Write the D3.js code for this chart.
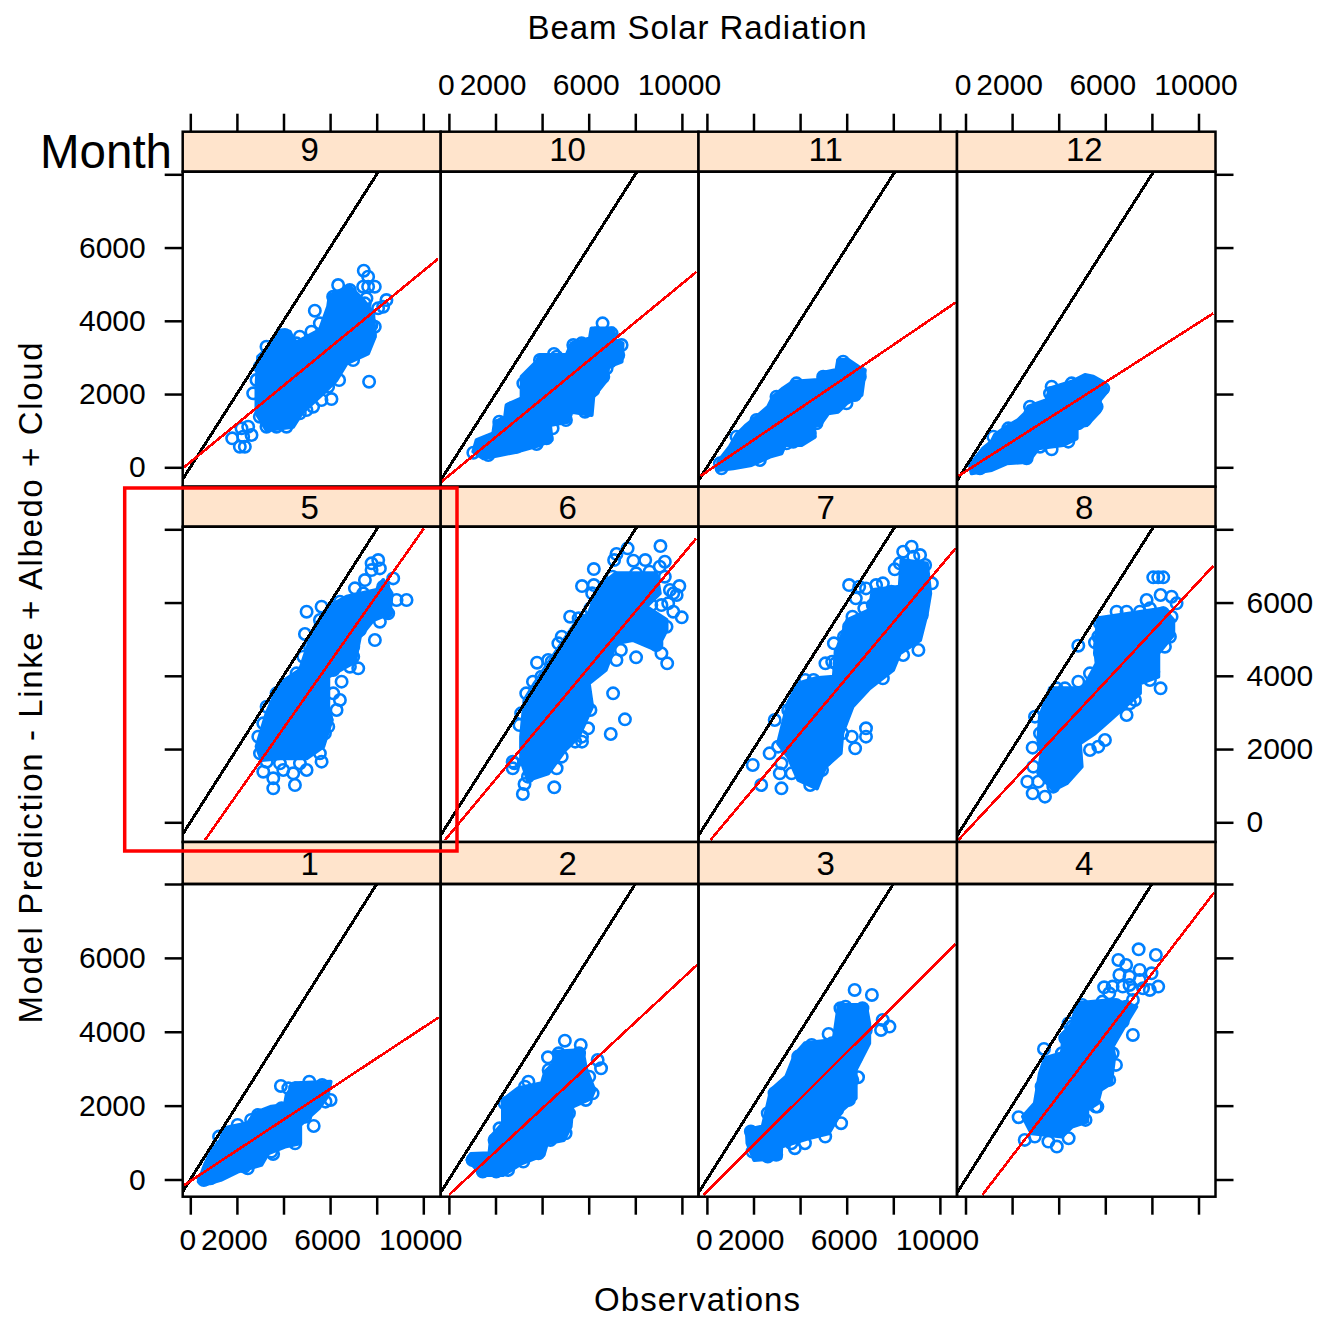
<!DOCTYPE html>
<html>
<head>
<meta charset="utf-8">
<title>Beam Solar Radiation</title>
<script src="https://d3js.org/d3.v7.min.js"></script>
<style>
body { margin: 0; background: #fff; }
text { font-family: "Liberation Sans", sans-serif; fill: #000; }
</style>
</head>
<body>
<div id="chart"></div>
<script>
// all values below are [observation, prediction], read off the picture
// pointsN = rings that can be told apart, coreN = outline of the area where the rings overplot to solid blue
// fitN = two ends of the red line
const months = [[9, 10, 11, 12], [5, 6, 7, 8], [1, 2, 3, 4]];
const xTicks = [0, 2000, 4000, 6000, 8000, 10000];
const xLabels = [0, 2000, 6000, 10000];
const yTicks = [0, 2000, 4000, 6000, 8000];
const yLabels = [0, 2000, 4000, 6000];
const identity = [[-600, -600], [8100, 8100]];

const core9 = [[2913,3020],[3556,3384],[3771,3748],[4271,3702],[4486,3384],[5558,3748],[5916,4385],[5987,4704],[6845,4931],[7417,4567],[7846,4203],[7918,3566],[7632,3111],[6702,2838],[6273,2383],[5701,2019],[4772,1473],[4414,1109],[3270,1018],[2841,1473],[2841,2201]];
const points9 = [[1797,790],[2198,1063],[2484,1109],[2269,836],[2126,563],[2341,563],[2627,882],[2698,2019],[5344,4276],[6345,4976],[7446,5368],[7632,5204],[7417,4931],[7918,4931],[7632,4931],[8418,4567],[8061,4340],[7775,3884],[7703,3612],[7346,3202],[6988,2929],[6387,2383],[6059,1864],[5630,1837],[4986,1564],[5272,1655],[4128,1109],[3270,1109],[7674,2337],[4700,3566],[5201,3702],[4057,3612],[8275,4385],[7560,4612],[3270,3293],[4557,3384],[5558,3930],[6130,4658],[6845,4840],[7489,4476],[7918,3839],[6702,3020],[5916,2201],[4700,1473],[3699,1109],[2984,1382],[2984,2747],[2841,2383]];
const fit9 = [[-270,0],[10630,5690]];

const core10 = [[1191,745],[1906,927],[1978,1246],[2407,1337],[2478,1700],[3122,1882],[3122,2474],[3765,2883],[3908,3066],[5052,3066],[5267,3384],[6053,3520],[6125,3793],[7054,3793],[7126,3475],[7454,3384],[7412,2883],[6840,2747],[6768,2383],[6196,1928],[6125,1427],[5267,1518],[5124,1246],[4337,1155],[4409,745],[3908,609],[2907,426],[2192,336],[1477,245],[1048,426]];
const points10 = [[6596,3930],[7412,3338],[7269,3066],[1048,399],[1692,336],[2693,1610],[2164,1246],[4509,3093],[5023,1291],[5839,1518],[4451,1064],[3765,636],[4194,790],[6196,2337],[6482,2565],[6196,2110],[5696,3384],[5338,3338],[6911,2883],[6768,2702],[3193,2292],[3908,2929],[4623,3020],[5481,3293],[6339,3657],[6983,3657],[2335,1200],[3193,1746],[1477,563],[2907,563],[5338,1655],[5910,1746],[6625,2474]];
const fit10 = [[-310,-390],[10630,5340]];

const core11 = [[485,154],[986,563],[1272,881],[1701,1154],[2059,1337],[2631,1655],[2845,1928],[3274,2156],[3703,2338],[4776,2383],[4847,2565],[5562,2656],[5634,2929],[6063,2929],[6492,2747],[6778,2656],[6635,1974],[5991,1746],[5634,1518],[5205,1473],[4847,1154],[4490,1109],[4633,836],[4061,609],[3346,609],[3203,381],[2702,290],[1916,63],[1129,-29],[485,-74]];
const points11 = [[5848,2884],[6420,2156],[6349,1974],[4418,927],[3703,699],[557,108],[629,-29],[4990,2474],[4704,1200],[3846,2292],[2988,1928],[2130,1291],[1272,836],[3417,654],[2273,199],[5991,1746],[6563,2474]];
const fit11 = [[-272,-238],[10681,4503]];

const core12 = [[193,62],[765,518],[1123,700],[1266,882],[1766,1109],[2267,1291],[2553,1473],[2696,1655],[3482,1837],[3625,2155],[4555,2337],[5127,2519],[5484,2474],[5985,2292],[6056,2065],[5770,1837],[5741,1518],[5198,1154],[4769,1109],[4769,790],[4197,608],[3125,518],[2696,153],[1766,108],[1123,-74],[265,-165]];
const points12 = [[3697,2201],[5913,2155],[5484,1564],[5127,1291],[3697,490],[4412,700],[3196,563],[2767,1655],[3625,2019],[4555,2292],[1838,1063],[1194,836],[622,-29],[5627,1655],[4840,1200],[2624,244]];
const fit12 = [[-307,-238],[10632,4203]];

const core5 = [[2846,2065],[3275,2975],[3847,3794],[4705,4158],[4991,4704],[5349,5341],[5921,5887],[6707,6160],[7994,6342],[8280,6615],[8638,6251],[8566,5705],[7851,5523],[7279,5068],[7065,4386],[5921,3976],[5921,3157],[6064,2793],[5706,2065],[4991,1747],[3847,1747],[3060,1701]];
const points5 = [[3561,927],[4491,1018],[3561,1200],[3132,1382],[3990,1428],[4991,1428],[5635,1656],[4419,1337],[2989,1883],[2918,2338],[3275,3157],[6493,3840],[6421,3339],[6278,3066],[7208,4204],[6850,4249],[7922,4977],[4920,5141],[4991,5750],[5635,5887],[9281,6069],[8852,6069],[8423,5750],[8137,5477],[8709,6660],[7494,6615],[7065,6388],[8066,7161],[7780,7070],[8137,6933],[7780,6888],[7279,5250],[5349,4795],[4848,4522],[6135,3521],[5849,2793],[5778,2429],[3132,2702],[3704,3521],[4562,4067],[5134,4795],[5563,5523],[6421,6023],[7422,6251],[8280,6433],[8494,5705],[6993,4795],[6993,4522],[6135,4158],[5921,2611],[5563,1883],[3847,1610],[3275,1655],[4705,1610]];
const fit5 = [[629,-483],[10025,8025]];

const core6 = [[3100,2338],[3246,3339],[3681,3794],[4551,4613],[5422,5432],[6002,5705],[6438,6433],[7163,6797],[8904,6797],[9050,6251],[8469,5887],[9340,5523],[9340,5250],[8904,4704],[7889,4977],[7163,4886],[6728,4158],[6002,3794],[6148,3157],[5567,2338],[4987,1974],[4261,1337],[3391,1155],[3100,1701]];
const points6 = [[3173,773],[4522,955],[3246,1046],[4624,1474],[2738,1474],[2738,1655],[6946,2411],[7555,2811],[7047,3521],[5973,2566],[5712,2202],[5422,2202],[6075,3066],[3028,2656],[3608,3840],[3782,4358],[4842,5068],[5204,5614],[5712,6451],[6220,6915],[7192,7325],[7671,7480],[7918,7143],[8426,7161],[9079,7543],[9267,7115],[9891,6451],[9630,6251],[9993,5596],[9630,5750],[9369,4340],[9122,4613],[8034,4504],[7192,4431],[7381,4704],[8904,4841],[6438,6160],[6220,6478],[7091,7161],[9050,6979],[9485,6342],[8687,5932],[9122,5932],[6873,6433],[7599,6160],[6075,5841],[3971,3976],[4406,4386],[7018,6706],[8034,6797],[8614,6842],[9267,6706],[9775,6206],[9412,5978],[6148,6251],[5567,5569],[4697,4886],[4261,4431],[3318,3521],[3100,2975],[2810,1610],[3391,1246],[4842,1792],[5712,2338],[8904,4887],[9340,5341]];
const fit6 = [[-164,-483],[10617,7752]];

const core7 = [[3055,2156],[3490,3275],[3926,3794],[4651,3930],[5449,3976],[5522,4613],[6030,5523],[6973,5796],[7118,6342],[8279,6433],[8351,7161],[9439,7070],[9584,6251],[9439,5705],[9149,4977],[8279,4613],[7989,4158],[6973,3658],[6247,3157],[5812,2429],[5739,1883],[5086,1519],[4724,927],[3926,1155],[3490,1792]];
const points7 = [[8786,7525],[8424,7389],[9149,7297],[8061,6906],[8641,6842],[9657,6524],[6102,6478],[6537,6433],[7263,6478],[6392,6115],[7118,5932],[9222,5659],[6102,5341],[5449,4886],[5739,4658],[5086,4340],[5522,4340],[9078,4704],[8424,4568],[7553,3930],[6828,2566],[6828,2338],[6218,2338],[6363,2019],[5812,2429],[2910,2793],[1967,1565],[2692,1883],[2330,1019],[3200,927],[3128,1337],[4433,1019],[4941,1428],[3926,1701],[3635,1337],[6827,6387],[7553,6524],[7916,6296],[6755,5841],[7408,5978],[6247,5614],[5884,5068],[6320,5068],[5377,4385],[5812,4522],[4578,3885],[4216,3885],[3490,3066],[8859,7252],[8279,7070],[9367,7025],[3055,2065],[3200,1610],[4361,1246],[5086,1701],[5522,1974]];
const fit7 = [[153,-483],[10673,7480]];

const core8 = [[3125,2247],[3196,2884],[3625,3658],[5055,3658],[5484,4158],[5627,4340],[5556,4795],[5699,5569],[7057,5705],[8487,5841],[8916,5523],[8916,5113],[8273,4613],[8273,3976],[7486,3794],[7486,3521],[6199,2793],[5556,2429],[4912,2156],[4984,1519],[4340,1064],[3768,882],[3125,1337],[3268,1883]];
const points8 = [[8058,6688],[8273,6688],[8487,6688],[8373,6206],[7772,6069],[8845,6160],[9059,5978],[8845,5614],[6485,5750],[4841,4822],[5556,4913],[8559,4795],[8058,4112],[8373,3658],[7272,3339],[6914,2930],[4841,3840],[4269,3658],[2982,2884],[2882,2038],[2910,1519],[2653,1110],[2882,791],[3411,700],[3125,1110],[5985,2247],[5341,1974],[5699,2065],[4740,1610],[4340,1291],[4197,1792],[5770,5432],[5699,5068],[5770,4613],[6914,5750],[7486,5750],[7915,5841],[8487,5705],[8630,5341],[8773,5068],[5341,4067],[3911,3658],[3339,3066],[3196,2429],[3482,1610],[4698,1701],[3768,973],[7057,3248],[7915,3885]];
const fit8 = [[-307,-483],[10632,6997]];

const core1 = [[362,-57],[653,439],[943,800],[1306,1071],[1451,1386],[2466,1522],[2757,1792],[3482,1973],[4062,2018],[4135,2288],[4498,2604],[6021,2649],[5876,2243],[5513,1927],[4715,1476],[4715,980],[4062,890],[3337,710],[3047,394],[2031,214],[1306,-12],[725,-120]];
const points1 = [[1233,1161],[2031,1476],[3888,2532],[4208,2469],[5107,2649],[6021,2153],[5296,1449],[3555,692],[2466,304],[580,-12],[2611,1612],[1596,1251],[2902,1747],[3917,1927],[4498,2469],[5658,2559],[5803,2108],[4933,1702],[4498,980],[3482,755],[2321,349],[870,34]];
const fit1 = [[-291,-165],[10664,4390]];

const core2 = [[799,529],[944,692],[1742,710],[1815,1161],[2322,1522],[2322,2153],[2975,2469],[3991,2604],[4136,2920],[4499,3145],[4571,3461],[5732,3506],[5877,3010],[6240,2424],[6095,2198],[5297,1973],[5224,1431],[4934,1071],[4209,980],[4064,665],[3120,439],[2322,123],[1379,123],[1089,349]];
const points2 = [[4977,3758],[5659,3641],[4252,3308],[3411,2649],[6530,3010],[6385,3235],[5877,2153],[5877,2424],[4789,1206],[4354,1071],[3193,484],[2177,1386],[1016,529],[1452,214],[2032,214],[6022,2784],[2395,2063],[3265,2514],[4281,2965],[4716,3416],[5587,3416],[6168,2333],[5152,1792],[5007,1251],[3846,710],[2540,259],[1960,1071]];
const fit2 = [[1,-418],[10648,5807]];

const core3 = [[1713,1343],[2395,1433],[2757,2425],[3410,2786],[3773,3373],[4208,3688],[5442,3778],[5587,4410],[5659,4725],[6820,4725],[6965,4229],[6965,3688],[6385,2967],[6385,2200],[5805,1884],[5224,1253],[4354,1117],[3193,892],[3164,576],[2032,531],[1742,982]];
const points3 = [[6341,5131],[7081,4996],[7546,4320],[7836,4139],[7473,4049],[5224,3941],[6385,3282],[6487,2768],[5761,1524],[5587,1884],[3773,847],[4208,982],[2975,667],[5950,4680],[1959,1253],[1959,757],[6095,2245],[1887,1298],[2612,1794],[2903,2335],[3918,3327],[4498,3643],[5369,3688],[5732,4635],[6675,4635],[6820,4049],[6240,2696],[6095,2155],[5079,1163],[3628,982],[2612,622]];
const fit3 = [[-145,-416],[10665,6367]];

const core4 = [[2468,1704],[2976,2065],[3194,2876],[3412,3282],[4137,3418],[4210,3959],[4572,4229],[4790,4771],[6314,4861],[6822,4771],[7329,4680],[6894,4229],[6314,3598],[6386,3327],[6241,2606],[5806,2425],[5661,2065],[5225,1884],[5225,1568],[4572,1433],[4137,1163],[2831,1253],[2686,1433]];
const points4 = [[7431,6232],[8171,6078],[6560,5943],[6894,5808],[7474,5673],[6604,5537],[7983,5582],[7039,5492],[5951,5204],[6314,5222],[8272,5222],[7620,5177],[7185,5131],[6749,5222],[7039,5267],[7910,5131],[6169,5041],[7474,5402],[7185,4861],[7184,3914],[6458,3102],[3368,3535],[2280,1686],[2541,1072],[3919,892],[4427,1117],[3557,1027],[6749,4274],[6169,4049],[6169,3733],[4427,4229],[4282,3823],[5661,1974],[6096,3102],[4572,4139],[4355,3869],[5008,4725],[5878,4816],[4137,3418],[3267,2516],[2831,1614],[2976,1163],[6604,4320],[6314,3418],[6169,2696],[5588,1974],[5152,1614],[6894,4680],[6459,4725]];
const fit4 = [[727,-416],[10667,7765]];

const cores = {1:core1,2:core2,3:core3,4:core4,5:core5,6:core6,7:core7,8:core8,9:core9,10:core10,11:core11,12:core12};
const points = {1:points1,2:points2,3:points3,4:points4,5:points5,6:points6,7:points7,8:points8,9:points9,10:points10,11:points11,12:points12};
const fits = {1:fit1,2:fit2,3:fit3,4:fit4,5:fit5,6:fit6,7:fit7,8:fit8,9:fit9,10:fit10,11:fit11,12:fit12};

// LAYOUT
const width = 1318, height = 1317;
const colEdges = [182.7, 440.7, 698.5, 957, 1215.5];
const stripTops = [131.7, 486.7, 842];
const panelTops = [171.7, 526.7, 884];
const panelBottoms = [486.7, 842, 1196.7];
const stripBaselines = [161, 519, 875];
const xZero = [190.3, 448.9, 706.9, 965.5];
const yZero = [467.3, 822.3, 1179.5];
const yTop = [174.3, 529.3, 884];

const blue = "#0080ff", red = "#ff0000", stripFill = "#ffe4cc";
const tickLen = 18;

const xScales = xZero.map(x0 => d3.scaleLinear().domain([0, 10000]).range([x0, x0 + 233]));
const yScales = yZero.map((y0, i) => d3.scaleLinear().domain([0, 8000]).range([y0, yTop[i]]));

const svg = d3.select("#chart").append("svg")
	.attr("width", width)
	.attr("height", height)
	.style("display", "block");

const styleAxis = g => {
	g.selectAll(".domain").remove();
	g.selectAll(".tick line").attr("stroke", "#000").attr("stroke-width", 2.5);
	g.selectAll(".tick text").attr("font-size", 30).style("font-family", '"Liberation Sans", sans-serif').attr("fill", "#000");
};
const labelIf = (show, labels) => d => (show && labels.includes(d)) ? d : "";

months.forEach((row, r) => {
	row.forEach((month, c) => {
		const x = xScales[c], y = yScales[r];
		const left = colEdges[c], right = colEdges[c + 1];
		const top = panelTops[r], bottom = panelBottoms[r];
		const clipId = "clip" + month;

		svg.append("clipPath").attr("id", clipId).append("rect")
			.attr("x", left).attr("y", top)
			.attr("width", right - left).attr("height", bottom - top);

		const plot = svg.append("g").attr("clip-path", `url(#${clipId})`);
		const line = d3.line().x(d => x(d[0])).y(d => y(d[1]));

		plot.append("path")
			.attr("d", line(cores[month]) + "Z")
			.attr("fill", blue)
			.attr("stroke", blue)
			.attr("stroke-width", 4)
			.attr("stroke-linejoin", "round");

		plot.selectAll("circle").data(points[month]).enter().append("circle")
			.attr("cx", d => x(d[0]))
			.attr("cy", d => y(d[1]))
			.attr("r", 5.7)
			.attr("fill", "none")
			.attr("stroke", blue)
			.attr("stroke-width", 2.6);

		plot.append("path")
			.attr("d", line(identity))
			.attr("fill", "none")
			.attr("stroke", "#000")
			.attr("stroke-width", 3)
			.attr("shape-rendering", "crispEdges");

		plot.append("path")
			.attr("d", line(fits[month]))
			.attr("fill", "none")
			.attr("stroke", red)
			.attr("stroke-width", 2.6)
			.attr("shape-rendering", "crispEdges");

		// strip and frame
		svg.append("rect")
			.attr("x", left).attr("y", stripTops[r])
			.attr("width", right - left).attr("height", top - stripTops[r])
			.attr("fill", stripFill)
			.attr("stroke", "#000")
			.attr("stroke-width", 2.5);
		svg.append("rect")
			.attr("x", left).attr("y", top)
			.attr("width", right - left).attr("height", bottom - top)
			.attr("fill", "none")
			.attr("stroke", "#000")
			.attr("stroke-width", 2.5);
		svg.append("text")
			.attr("x", (left + right) / 2 - 2)
			.attr("y", stripBaselines[r])
			.attr("text-anchor", "middle")
			.attr("font-size", 33)
			.text(month);

		// x axes: ticks on every column, labels take turns
		if (r === 0) {
			svg.append("g")
				.attr("transform", `translate(0,${stripTops[0]})`)
				.call(d3.axisTop(x).tickValues(xTicks).tickSize(tickLen).tickPadding(19)
					.tickFormat(labelIf(c % 2 === 1, xLabels)))
				.call(styleAxis)
				.selectAll(".tick text").attr("dx", -3);
		}
		if (r === 2) {
			svg.append("g")
				.attr("transform", `translate(0,${panelBottoms[2]})`)
				.call(d3.axisBottom(x).tickValues(xTicks).tickSize(tickLen).tickPadding(14)
					.tickFormat(labelIf(c % 2 === 0, xLabels)))
				.call(styleAxis)
				.selectAll(".tick text").attr("dx", -3);
		}
	});

	// y axes: labels on the left for rows 1 and 3, on the right for row 2
	svg.append("g")
		.attr("transform", `translate(${colEdges[0]},0)`)
		.call(d3.axisLeft(yScales[r]).tickValues(yTicks).tickSize(tickLen).tickPadding(19)
			.tickFormat(labelIf(r !== 1, yLabels)))
		.call(styleAxis);
	svg.append("g")
		.attr("transform", `translate(${colEdges[4]},0)`)
		.call(d3.axisRight(yScales[r]).tickValues(yTicks).tickSize(tickLen).tickPadding(13)
			.tickFormat(labelIf(r === 1, yLabels)))
		.call(styleAxis);
});

// TITLES
svg.append("text")
	.attr("x", 697).attr("y", 39)
	.attr("text-anchor", "middle")
	.attr("font-size", 33)
	.attr("textLength", 339)
	.text("Beam Solar Radiation");
svg.append("text")
	.attr("x", 697).attr("y", 1311)
	.attr("text-anchor", "middle")
	.attr("font-size", 33)
	.attr("textLength", 206)
	.text("Observations");
svg.append("text")
	.attr("transform", "translate(42,683) rotate(-90)")
	.attr("text-anchor", "middle")
	.attr("font-size", 33)
	.attr("textLength", 681)
	.text("Model Prediction - Linke + Albedo + Cloud");
svg.append("text")
	.attr("x", 40).attr("y", 168)
	.attr("font-size", 47.5)
	.text("Month");

// red highlight box round month 5
svg.append("rect")
	.attr("x", 124.7).attr("y", 488)
	.attr("width", 332.3).attr("height", 363)
	.attr("fill", "none")
	.attr("stroke", red)
	.attr("stroke-width", 3.5);
</script>
</body>
</html>
